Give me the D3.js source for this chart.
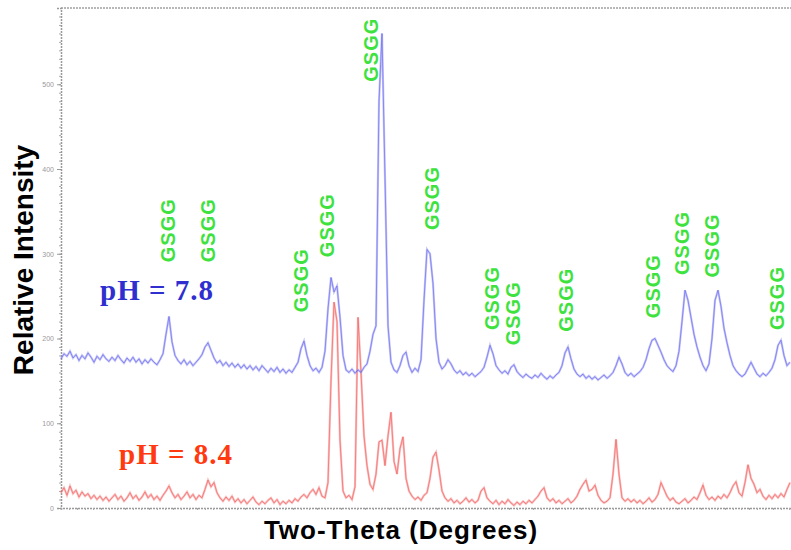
<!DOCTYPE html>
<html>
<head>
<meta charset="utf-8">
<script src="https://cdn.jsdelivr.net/npm/d3@7"></script>
<style>
  body { margin: 0; background: #fff; }
  #chart { width: 791px; height: 550px; }
</style>
</head>
<body>
<div id="chart"></div>
<script>
// Step scan: two-theta start and step (degrees)
const thetaStart = 10;
const thetaStep = 0.15;

// Intensity, one value per step
const bluePH78 = [
  176, 182, 179, 185, 177, 181, 174, 180, 176, 183, 178, 172, 179, 175, 181, 176, 173, 178, 174, 180,
  175, 171, 177, 173, 178, 172, 176, 170, 175, 171, 176, 172, 169, 175, 182, 205, 226, 196, 180, 174,
  170, 175, 169, 173, 168, 172, 176, 181, 190, 195, 186, 177, 171, 174, 168, 172, 167, 171, 166, 170,
  165, 169, 164, 168, 163, 167, 162, 168, 164, 160, 165, 161, 166, 160, 164, 159, 163, 160, 166, 172,
  188, 197, 180, 168, 162, 165, 160, 166, 185, 235, 272, 255, 262, 225, 180, 163, 160, 164, 159, 163,
  160, 166, 170, 185, 205, 215, 480, 560, 390, 215, 172, 163, 160, 168, 180, 184, 168, 160, 165, 161,
  175, 245, 305, 300, 265, 200, 172, 164, 168, 175, 170, 163, 159, 162, 157, 160, 156, 159, 155, 158,
  161, 166, 178, 192, 182, 168, 163, 159, 162, 158, 166, 169, 161, 157, 154, 158, 155, 153, 157, 154,
  159, 155, 152, 156, 153, 157, 160, 168, 183, 190, 176, 164, 158, 155, 158, 153, 156, 152, 155, 151,
  154, 157, 153, 156, 160, 168, 178, 170, 160, 156, 159, 155, 158, 161, 166, 175, 188, 198, 200, 192,
  184, 175, 168, 164, 161, 168, 185, 220, 257, 245, 225, 205, 190, 178, 168, 162, 170, 200, 245, 257,
  238, 212, 195, 180, 168, 162, 158, 155, 158, 165, 172, 165, 158, 155, 159, 156, 160, 165, 175, 192,
  198, 180, 168, 172
];

const redPH84 = [
  18, 24, 15, 26, 17, 21, 13, 19, 14, 17, 11, 15, 10, 14, 9, 13, 8, 12, 16, 10,
  14, 8, 12, 18, 11, 15, 9, 13, 19, 12, 16, 10, 14, 9, 15, 20, 26, 18, 12, 16,
  10, 14, 19, 12, 16, 10, 15, 12, 22, 33, 25, 30, 18, 12, 8, 13, 9, 14, 7, 11,
  6, 10, 5, 9, 13, 7, 4, 8, 5, 9, 12, 6, 10, 4, 8, 5, 9, 6, 11, 8,
  13, 16, 12, 18, 22, 16, 24, 14, 12, 30, 150, 243, 220, 80, 20, 12, 15, 10, 25, 225,
  160, 85, 50, 28, 22, 40, 78, 80, 50, 85, 113, 55, 40, 70, 84, 35, 20, 14, 10, 13,
  9, 15, 18, 35, 60, 66, 45, 20, 12, 8, 11, 6, 9, 5, 8, 12, 7, 10, 6, 9,
  20, 24, 12, 8, 5, 9, 4, 8, 5, 10, 6, 3, 7, 4, 8, 5, 9, 6, 10, 14,
  20, 24, 12, 8, 11, 6, 9, 5, 8, 11, 6, 9, 14, 22, 28, 33, 20, 22, 27, 15,
  9, 6, 8, 12, 40, 81, 40, 12, 8, 11, 7, 10, 6, 9, 5, 8, 12, 7, 10, 16,
  30, 22, 14, 9, 12, 7, 5, 8, 11, 6, 9, 13, 10, 18, 27, 15, 10, 13, 9, 14,
  11, 16, 12, 18, 26, 31, 18, 14, 30, 51, 35, 28, 18, 22, 14, 10, 15, 11, 16, 12,
  17, 13, 22, 30
];

// GSGG reflections: two-theta and the intensity where each label starts
const gsggTheta = [15.35, 17.35, 22.0, 23.3, 25.5, 28.55, 31.55, 32.6, 35.25, 39.6, 41.05, 42.55, 45.8];
const gsggLevel = [290, 290, 231, 296, 503, 328, 210, 192, 208, 224, 275, 272, 210];

const yTicks = [0, 100, 200, 300, 400, 500];

window.xrdChart = {
    render: function (containerId) {
        const container = document.getElementById(containerId);
        const width = 791;
        const height = 550;

        const svg = d3.select(container)
            .append('svg')
            .attr('width', width)
            .attr('height', height);

        const margin = { top: 8, right: 0, bottom: 42, left: 61 };

        const xScale = d3.scaleLinear()
            .domain([10, 46.5])
            .range([margin.left, width - margin.right]);

        const yScale = d3.scaleLinear()
            .domain([0, 590])
            .range([height - margin.bottom, margin.top]);

        const twoTheta = bluePH78.map((_, i) => thetaStart + i * thetaStep);

        this.drawFrame(svg, xScale, yScale);
        this.drawSeries(svg, twoTheta, redPH84, xScale, yScale, '#f88080', '#ee4040');
        this.drawSeries(svg, twoTheta, bluePH78, xScale, yScale, '#8e8ef8', '#4848e6');
        this.drawLabels(svg, xScale, yScale);
    },

    drawFrame: function (svg, xScale, yScale) {
        const [x0, x1] = xScale.range();
        const [y0, y1] = yScale.range();

        // Top border
        svg.append('line')
            .attr('x1', x0).attr('x2', x1)
            .attr('y1', y1).attr('y2', y1)
            .style('stroke', '#b8b8b8')
            .style('stroke-width', 2)
            .style('stroke-dasharray', '2,1');

        // Left axis with minor ticks
        const minor = d3.range(0, 590, 10);
        svg.append('g')
            .attr('transform', `translate(${x0},0)`)
            .call(d3.axisLeft(yScale).tickValues(minor).tickSize(2).tickFormat(''))
            .call(g => g.select('.domain').remove())
            .selectAll('line')
            .style('stroke', '#aaa');

        const yAxis = svg.append('g')
            .attr('transform', `translate(${x0},0)`)
            .call(d3.axisLeft(yScale).tickValues(yTicks).tickSize(4).tickPadding(3));

        yAxis.select('.domain')
            .style('stroke', '#999')
            .style('stroke-width', 1.5)
            .style('stroke-dasharray', '2,1');
        yAxis.selectAll('line').style('stroke', '#999');
        yAxis.selectAll('text')
            .style('font-family', 'Liberation Sans, Arial, sans-serif')
            .style('font-size', '7px')
            .style('fill', '#999');

        // Bottom axis, no labels
        const xAxis = svg.append('g')
            .attr('transform', `translate(0,${y0})`)
            .call(d3.axisBottom(xScale).tickValues(d3.range(10, 46.5, 0.4)).tickSize(2).tickFormat(''));

        xAxis.select('.domain')
            .style('stroke', '#999')
            .style('stroke-width', 1.5)
            .style('stroke-dasharray', '2,1');
        xAxis.selectAll('line').style('stroke', '#aaa');

        // Axis titles
        svg.append('text')
            .attr('transform', `translate(33,${(y0 + y1) / 2 + 2}) rotate(-90)`)
            .attr('text-anchor', 'middle')
            .style('font-family', 'Liberation Sans, Arial, sans-serif')
            .style('font-weight', 'bold')
            .style('font-size', '28px')
            .style('fill', '#000')
            .text('Relative Intensity');

        svg.append('text')
            .attr('x', 401)
            .attr('y', 539)
            .attr('text-anchor', 'middle')
            .style('font-family', 'Liberation Sans, Arial, sans-serif')
            .style('font-weight', 'bold')
            .style('font-size', '26px')
            .style('letter-spacing', '1px')
            .style('fill', '#000')
            .text('Two-Theta (Degrees)');
    },

    drawSeries: function (svg, xs, ys, xScale, yScale, light, dark) {
        const line = d3.line()
            .x((d, i) => xScale(xs[i]))
            .y(d => yScale(d));

        svg.append('path')
            .datum(ys)
            .attr('fill', 'none')
            .attr('stroke', light)
            .attr('stroke-width', 2.2)
            .attr('opacity', 0.5)
            .attr('d', line);

        svg.append('path')
            .datum(ys)
            .attr('fill', 'none')
            .attr('stroke', dark)
            .attr('stroke-width', 0.7)
            .attr('opacity', 0.7)
            .attr('d', line);
    },

    drawLabels: function (svg, xScale, yScale) {
        svg.append('g')
            .selectAll('text')
            .data(gsggTheta)
            .enter()
            .append('text')
            .attr('transform', (d, i) => `translate(${xScale(d) + 7},${yScale(gsggLevel[i])}) rotate(-90)`)
            .style('font-family', 'Liberation Sans, Arial, sans-serif')
            .style('font-weight', 'bold')
            .style('font-size', '20px')
            .style('letter-spacing', '1px')
            .style('fill', '#3ee23e')
            .text('GSGG');

        svg.append('text')
            .attr('x', 100)
            .attr('y', 300)
            .style('font-family', 'Liberation Serif, Times New Roman, serif')
            .style('font-weight', 'bold')
            .style('font-size', '29px')
            .style('letter-spacing', '1px')
            .style('fill', '#2f2fd0')
            .text('pH = 7.8');

        svg.append('text')
            .attr('x', 119)
            .attr('y', 464)
            .style('font-family', 'Liberation Serif, Times New Roman, serif')
            .style('font-weight', 'bold')
            .style('font-size', '29px')
            .style('letter-spacing', '1px')
            .style('fill', '#ff3a10')
            .text('pH = 8.4');
    }
};

window.xrdChart.render('chart');
</script>
</body>
</html>
